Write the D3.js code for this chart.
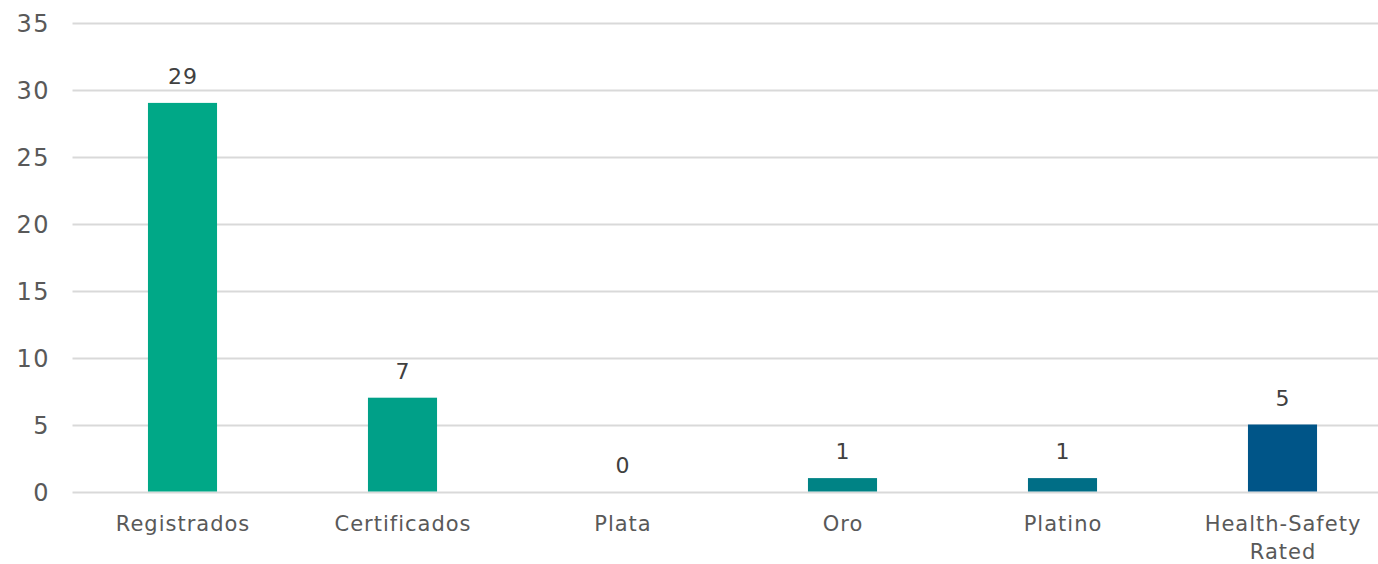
<!DOCTYPE html>
<html>
<head>
<meta charset="utf-8">
<script src="https://cdn.jsdelivr.net/npm/d3@7"></script>
<style>
  html, body { margin: 0; padding: 0; background: #fff; }
  svg { display: block; font-family: "DejaVu Sans", "Open Sans", sans-serif; }
</style>
</head>
<body>
<svg id="chart" width="1378" height="564"></svg>
<script>
// Chart data
const categories = ["Registrados", "Certificados", "Plata", "Oro", "Platino", "Health-Safety Rated"];
const values = [29, 7, 0, 1, 1, 5];
const barColors = ["#00a887", "#00a088", "#009489", "#008385", "#006e86", "#005588"];
const yTicks = [0, 5, 10, 15, 20, 25, 30, 35];

const svg = d3.select("#chart");
const plotLeft = 72.5, plotRight = 1378, yTop = 22.5, yBottom = 491.5;

const x = d3.scaleBand()
  .domain(categories)
  .range([plotLeft, plotLeft + 6 * 220])
  .paddingInner(0.686)
  .paddingOuter(0.343);

const y = d3.scaleLinear().domain([0, 35]).range([yBottom, yTop]);

// Horizontal gridlines
svg.append("g")
  .selectAll("line")
  .data(yTicks)
  .join("line")
  .attr("x1", plotLeft)
  .attr("x2", plotRight)
  .attr("y1", d => Math.round(y(d)) + 0.5)
  .attr("y2", d => Math.round(y(d)) + 0.5)
  .attr("stroke", "#d9d9d9")
  .attr("stroke-width", 2);

// Y axis tick labels
const yAxis = d3.axisLeft(y).tickValues(yTicks).tickSize(0).tickPadding(0);
const yg = svg.append("g")
  .attr("transform", `translate(50,0)`)
  .call(yAxis);
yg.select(".domain").remove();
yg.selectAll("text")
  .attr("fill", "#595959")
  .attr("font-size", 24)
  .attr("font-family", "DejaVu Sans, sans-serif")
  .attr("letter-spacing", 1.5)
  .attr("dy", "0.36em");

// Bars
svg.append("g")
  .selectAll("rect")
  .data(categories)
  .join("rect")
  .attr("x", d => x(d))
  .attr("width", x.bandwidth())
  .attr("y", (d, i) => y(values[i]))
  .attr("height", (d, i) => y(0) - y(values[i]))
  .attr("fill", (d, i) => barColors[i]);

// Value labels above bars
svg.append("g")
  .selectAll("text")
  .data(categories)
  .join("text")
  .attr("x", d => x(d) + x.bandwidth() / 2 + 0.5)
  .attr("y", (d, i) => y(values[i]) - 19)
  .attr("text-anchor", "middle")
  .attr("fill", "#404040")
  .attr("font-size", 22)
  .attr("letter-spacing", 1)
  .text((d, i) => values[i]);

// Category labels (wrapped)
const catLines = {
  "Health-Safety Rated": ["Health-Safety", "Rated"]
};
const xg = svg.append("g");
categories.forEach(c => {
  const lines = catLines[c] || [c];
  const cx = x(c) + x.bandwidth() / 2 + 0.5;
  const t = xg.append("text")
    .attr("x", cx)
    .attr("y", 531)
    .attr("text-anchor", "middle")
    .attr("fill", "#595959")
    .attr("font-size", 21)
    .attr("letter-spacing", 1);
  lines.forEach((l, i) => {
    t.append("tspan")
      .attr("x", cx)
      .attr("dy", i === 0 ? 0 : 28)
      .text(l);
  });
});
</script>
</body>
</html>
